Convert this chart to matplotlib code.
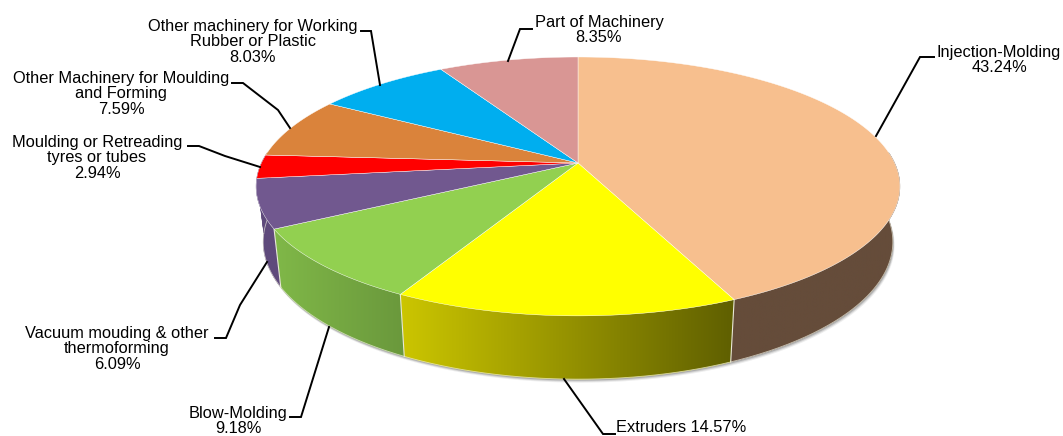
import numpy as np
import matplotlib
matplotlib.use("Agg")
import matplotlib.pyplot as plt
from matplotlib.patches import Polygon
from matplotlib.colors import LinearSegmentedColormap

# ---- data ----
categories = ["Injection-Molding", "Extruders", "Blow-Molding",
              "Vacuum mouding & other thermoforming",
              "Moulding or Retreading tyres or tubes",
              "Other Machinery for Moulding and Forming",
              "Other machinery for Working Rubber or Plastic",
              "Part of Machinery"]
values = [43.24, 14.57, 9.18, 6.09, 2.94, 7.59, 8.03, 8.35]
value_labels = ["43.24%", "14.57%", "9.18%", "6.09%", "2.94%", "7.59%", "8.03%", "8.35%"]
label_texts = ["Injection-Molding\n43.24%", "Extruders 14.57%", "Blow-Molding\n9.18%",
               "Vacuum mouding & other\nthermoforming\n6.09%",
               "Moulding or Retreading\ntyres or tubes\n2.94%",
               "Other Machinery for Moulding\nand Forming\n7.59%",
               "Other machinery for Working\nRubber or Plastic\n8.03%",
               "Part of Machinery\n8.35%"]
top_colors = ["#F7BF8E", "#FFFF00", "#92D050", "#71588F", "#FF0000", "#DA833B", "#00AEEF", "#D99694"]
wall_left = ["#654C3A", "#CCC600", "#80B848", "#5F4A7C", "#5F4A7C", "#B06A30", "#0090C0", "#B07A78"]
wall_right = ["#654C3A", "#5F5F00", "#6A983C", "#5F4A7C", "#5F4A7C", "#B06A30", "#0090C0", "#B07A78"]

# ---- geometry of the tilted pie (pixels) ----
CX, CY = 578.0, 163.0
A, B, K = 316.6, 125.2, -0.181
SX, BY0, B2 = 0.978, 217.0, 132.8
LAB_X = [999, 681, 238, 117, 97, 121, 253, 599]
LAB_Y = [52, 427, 413, 333, 142, 78, 26, 22]
LEADERS = [[(876, 136), (920, 57), (934, 57)],
           [(564, 379), (603, 434), (615, 434)],
           [(329, 327), (301, 417), (290, 417)],
           [(267, 262), (240, 305), (226, 338), (215, 338)],
           [(260, 167), (225, 156), (199, 146), (188, 146)],
           [(290, 128), (278, 110), (243, 83), (232, 83)],
           [(380, 85), (371, 31), (361, 31)],
           [(508, 61), (520, 29), (532, 29)]]


def top_rim(t):
    t = np.radians(t)
    u, v = np.sin(t), -np.cos(t)
    w = 1 + K * v
    return np.c_[CX + A * u / w, CY + B * v / w]


def bottom_rim(t):
    t = np.radians(t)
    u, v = np.sin(t), -np.cos(t)
    w = 1 + K * v
    return np.c_[CX + SX * A * u / w, BY0 + B2 * v / w]


fig = plt.figure(figsize=(10.63, 4.36), dpi=100)
ax = fig.add_axes([0, 0, 1, 1])
ax.set_xlim(0, 1063)
ax.set_ylim(436, 0)
ax.axis("off")

edges = np.r_[0, np.cumsum(values)] / np.sum(values) * 360.0

# soft shadow under the wall
theta = np.linspace(85, 275, 300)
for off, al in zip((3.5, 2.5, 1.5), (0.10, 0.18, 0.28)):
    rim = bottom_rim(theta)
    ax.add_patch(Polygon(np.r_[top_rim(theta), (rim + [off * 0.5, off])[::-1]], closed=True,
                         fc="#555555", ec="none", alpha=al, zorder=1))

# side walls
for i in range(len(values)):
    a0, a1 = max(edges[i], 85.0), min(edges[i + 1], 275.0)
    if a1 <= a0:
        continue
    t = np.linspace(a0, a1, 150)
    up, lo = top_rim(t), bottom_rim(t)
    poly = Polygon(np.r_[up, lo[::-1]], closed=True, fc=wall_left[i], ec=wall_left[i], lw=0.3, zorder=2)
    ax.add_patch(poly)
    cmap = LinearSegmentedColormap.from_list("w", [wall_left[i], wall_right[i]])
    x0, x1 = min(up[:, 0].min(), lo[:, 0].min()), max(up[:, 0].max(), lo[:, 0].max())
    y0, y1 = min(up[:, 1].min(), lo[:, 1].min()), max(up[:, 1].max(), lo[:, 1].max())
    im = ax.imshow(np.linspace(0, 1, 256)[None, :], cmap=cmap, extent=(x0, x1, y1, y0),
                   aspect="auto", zorder=2.1)
    im.set_clip_path(poly)
    if 90 < edges[i + 1] < 250:
        p, q = top_rim(np.array([edges[i + 1]]))[0], bottom_rim(np.array([edges[i + 1]]))[0]
        ax.plot([p[0], q[0]], [p[1], q[1]], color="#E8E8D8", lw=0.8, zorder=2.3)
    ax.plot(lo[:, 0], lo[:, 1], color="#F0F0E0", lw=0.6, alpha=0.7, zorder=2.2)

# top faces
for i in range(len(values)):
    t = np.linspace(edges[i], edges[i + 1], 200)
    pts = np.r_[[[CX, CY]], top_rim(t)]
    ax.add_patch(Polygon(pts, closed=True, fc=top_colors[i], ec="#FFFFFF", lw=0.3,
                         joinstyle="round", zorder=3))

ax.set_xlim(0, 1063)
ax.set_ylim(436, 0)

# leaders and labels
for pts in LEADERS:
    xs, ys = zip(*pts)
    ax.plot(xs, ys, color="black", lw=1.4, solid_joinstyle="miter", zorder=4)

for txt, x, y in zip(label_texts, LAB_X, LAB_Y):
    lines = txt.split("\n")
    for k, line in enumerate(lines):
        extra = 1.5 if (k == len(lines) - 1 and k == 2) else 0.0
        ax.text(x, y + k * 15.2 + extra, line, ha="center", va="center", fontsize=11.8,
                family="Liberation Sans", color="black", zorder=5)

fig.savefig("out.png", dpi=100)
